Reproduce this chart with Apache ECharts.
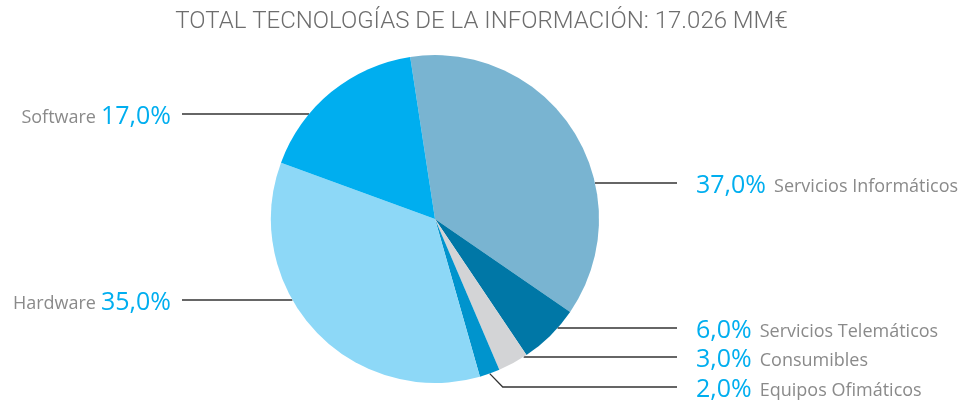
<!DOCTYPE html>
<html>
<head>
<meta charset="utf-8">
<script src="https://cdn.jsdelivr.net/npm/echarts@6/dist/echarts.min.js"></script>
<style>html,body{margin:0;padding:0;background:#fff;}#c{width:963px;height:400px;}</style>
</head>
<body>
<div id="c"></div>
<script>
var titleText = 'TOTAL TECNOLOGÍAS DE LA INFORMACIÓN: 17.026 MM€';
var categories = ['Servicios Informáticos', 'Servicios Telemáticos', 'Consumibles', 'Equipos Ofimáticos', 'Hardware', 'Software'];
var values = [37.0, 6.0, 3.0, 2.0, 35.0, 17.0];
var colors = ['#79b4d1', '#0077a6', '#d3d4d6', '#0094cd', '#8dd8f7', '#00aeef'];

// label layout (positions only)
var CX = 435, CY = 219, R = 164;
var labelY = [183, 328, 357, 387, 300, 114];
var sideRight = [true, true, true, true, false, false];
var RIGHT_LINE_END = 677, RIGHT_TEXT_X = 696, LEFT_LINE_END = 182, LEFT_TEXT_X = 171;

function fmt(v) { return v.toFixed(1).replace('.', ',') + '%'; }

var data = categories.map(function (c, i) {
  return { name: c, value: values[i], itemStyle: { color: colors[i] } };
});

var chart = echarts.init(document.getElementById('c'), null, { renderer: 'canvas' });
chart.setOption({
  animation: false,
  title: {
    text: titleText, left: 'center', top: 5,
    textStyle: { fontFamily: 'Roboto', fontWeight: 300, fontSize: 24, color: '#6d6d6d' }
  },
  series: [{
    type: 'pie',
    center: [CX, CY],
    radius: R,
    startAngle: 98.7,
    clockwise: true,
    data: data,
    itemStyle: { borderWidth: 0 },
    emphasis: { disabled: true },
    label: {
      show: true,
      fontFamily: 'Open Sans',
      formatter: function (p) {
        var i = p.dataIndex;
        return sideRight[i] ? '{p|' + fmt(p.value) + '}{nr|' + p.name + '}' : '{nl|' + p.name + '}{p|' + fmt(p.value) + '}';
      },
      rich: {
        p: { fontFamily: 'Open Sans', fontSize: 25, color: '#00aeef', verticalAlign: 'bottom', lineHeight: 30 },
        nr: { fontFamily: 'Open Sans', fontSize: 18, color: '#8a8a8a', verticalAlign: 'bottom', lineHeight: 26, padding: [0, 0, 2, 8] },
        nl: { fontFamily: 'Open Sans', fontSize: 18, color: '#8a8a8a', verticalAlign: 'bottom', lineHeight: 26, padding: [0, 5, 2, 0] }
      }
    },
    labelLine: { show: true, lineStyle: { color: '#333', width: 1.3 }, length: 10, length2: 10 },
    labelLayout: function (params) {
      var i = params.dataIndex;
      var y = labelY[i];
      var pts;
      var dy = y - CY;
      var dx = Math.sqrt(Math.max(R * R - dy * dy, 0));
      if (sideRight[i]) {
        var sx = CX + dx;
        if (i === 3) {
          var p0 = params.labelLinePoints ? params.labelLinePoints[0] : [490, 374];
          pts = [p0, [p0[0] + 13, y], [RIGHT_LINE_END, y]];
        } else {
          pts = [[sx, y], [sx, y], [RIGHT_LINE_END, y]];
        }
        return { x: RIGHT_TEXT_X, y: y, align: 'left', verticalAlign: 'middle', labelLinePoints: pts };
      } else {
        var lx = CX - dx;
        pts = [[lx, y], [lx, y], [LEFT_LINE_END, y]];
        return { x: LEFT_TEXT_X, y: y, align: 'right', verticalAlign: 'middle', labelLinePoints: pts };
      }
    }
  }]
});
</script>
</body>
</html>
